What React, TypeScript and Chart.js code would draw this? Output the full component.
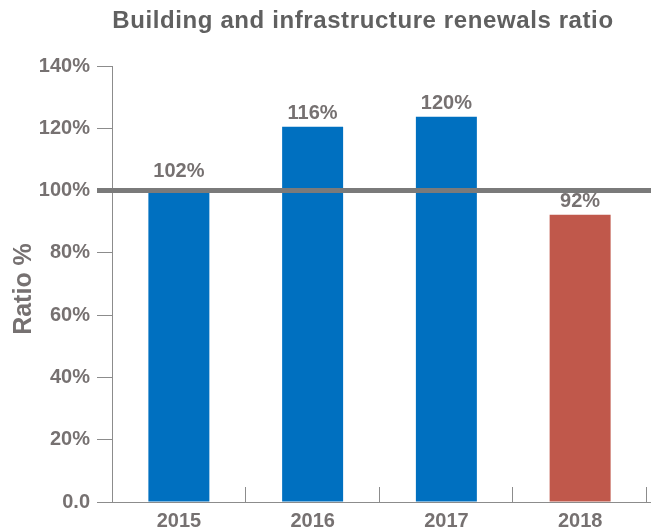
import React, { useEffect, useRef } from "react";
import { Chart, registerables } from "chart.js";

Chart.register(...registerables);

const years = ["2015", "2016", "2017", "2018"];
const barHeights = [100, 120.5, 123.7, 92.2];
const valueLabels = ["102%", "116%", "120%", "92%"];
const labelValues = [102, 116, 120, 92];
const barColors = ["#0070C0", "#0070C0", "#0070C0", "#C0584B"];
const yTicks = [0, 20, 40, 60, 80, 100, 120, 140];
const referenceValue = 100;

const TEXT = "#767171";
const AXIS = "#8c8c8c";
const FONT = "Liberation Sans, Arial, sans-serif";

const decorPlugin = {
  id: "decor",
  afterDatasetsDraw(chart: any) {
    const { ctx, chartArea, scales, width } = chart;
    const x = scales.x;
    const y = scales.y;
    ctx.save();
    // extend x axis line to the right edge
    ctx.strokeStyle = AXIS;
    ctx.lineWidth = 1;
    const by = Math.round(chartArea.bottom) + 0.5;
    ctx.beginPath();
    ctx.moveTo(chartArea.right, by);
    ctx.lineTo(width, by);
    ctx.stroke();
    // inward x ticks at category boundaries
    const n = years.length;
    const w = (chartArea.right - chartArea.left) / n;
    for (let i = 1; i <= n; i++) {
      const px = Math.round(chartArea.left + i * w) - 0.5;
      ctx.beginPath();
      ctx.moveTo(px, chartArea.bottom);
      ctx.lineTo(px, chartArea.bottom - 15);
      ctx.stroke();
    }
    // reference line
    const ry = y.getPixelForValue(referenceValue);
    ctx.strokeStyle = "#7a7a7a";
    ctx.lineWidth = 5;
    ctx.beginPath();
    ctx.moveTo(chartArea.left - 15, ry);
    ctx.lineTo(width, ry);
    ctx.stroke();
    // value labels
    ctx.fillStyle = TEXT;
    ctx.font = `bold 20px ${FONT}`;
    ctx.textAlign = "center";
    ctx.textBaseline = "middle";
    for (let i = 0; i < n; i++) {
      const v = Math.max(barHeights[i], labelValues[i]);
      const py = y.getPixelForValue(v) - 13;
      ctx.fillText(valueLabels[i], x.getPixelForValue(i), py);
    }
    // title
    ctx.fillStyle = "#606060";
    ctx.font = `bold 24px ${FONT}`;
    try { (ctx as any).letterSpacing = "0.6px"; } catch (e) {}
    ctx.fillText("Building and infrastructure renewals ratio", 363, 21);
    try { (ctx as any).letterSpacing = "0px"; } catch (e) {}
    // y axis title
    ctx.save();
    ctx.translate(24, 289);
    ctx.rotate(-Math.PI / 2);
    ctx.fillStyle = TEXT;
    ctx.font = `bold 25px ${FONT}`;
    ctx.fillText("Ratio %", 0, 0);
    ctx.restore();
    ctx.restore();
  },
};

export default function App() {
  const ref = useRef<HTMLCanvasElement>(null);
  useEffect(() => {
    if (!ref.current) return;
    const chart = new Chart(ref.current, {
      type: "bar",
      data: {
        labels: years,
        datasets: [
          {
            data: barHeights,
            backgroundColor: barColors,
            borderWidth: 0,
            categoryPercentage: 1,
            barPercentage: 0.456,
          },
        ],
      },
      options: {
        animation: false,
        responsive: false,
        maintainAspectRatio: false,
        layout: { padding: { top: 66, right: 4, left: 0, bottom: 0 } },
        plugins: { legend: { display: false }, tooltip: { enabled: false }, title: { display: false } },
        scales: {
          x: {
            afterFit: (s: any) => { s.height = 28; },
            grid: { display: false, drawTicks: false },
            border: { display: true, color: AXIS, width: 1 },
            ticks: { color: TEXT, font: { family: FONT, size: 20, weight: "bold" }, padding: 7 },
          },
          y: {
            min: 0,
            max: 140,
            afterFit: (s: any) => { s.width = 112; },
            afterBuildTicks: (s: any) => { s.ticks = yTicks.map((v) => ({ value: v })); },
            grid: { drawOnChartArea: false, drawTicks: true, tickLength: 15, color: AXIS },
            border: { display: true, color: AXIS, width: 1 },
            ticks: {
              color: TEXT,
              font: { family: FONT, size: 20, weight: "bold" },
              padding: 7,
              callback: (v: any) => (v === 0 ? "0.0" : v + "%"),
            },
          },
        },
      },
      plugins: [decorPlugin],
    });
    return () => chart.destroy();
  }, []);
  return (
    <div style={{ position: "absolute", left: 0, top: 0, width: 651, height: 530 }}>
      <canvas ref={ref} width={651} height={530} style={{ width: 651, height: 530 }} />
    </div>
  );
}
